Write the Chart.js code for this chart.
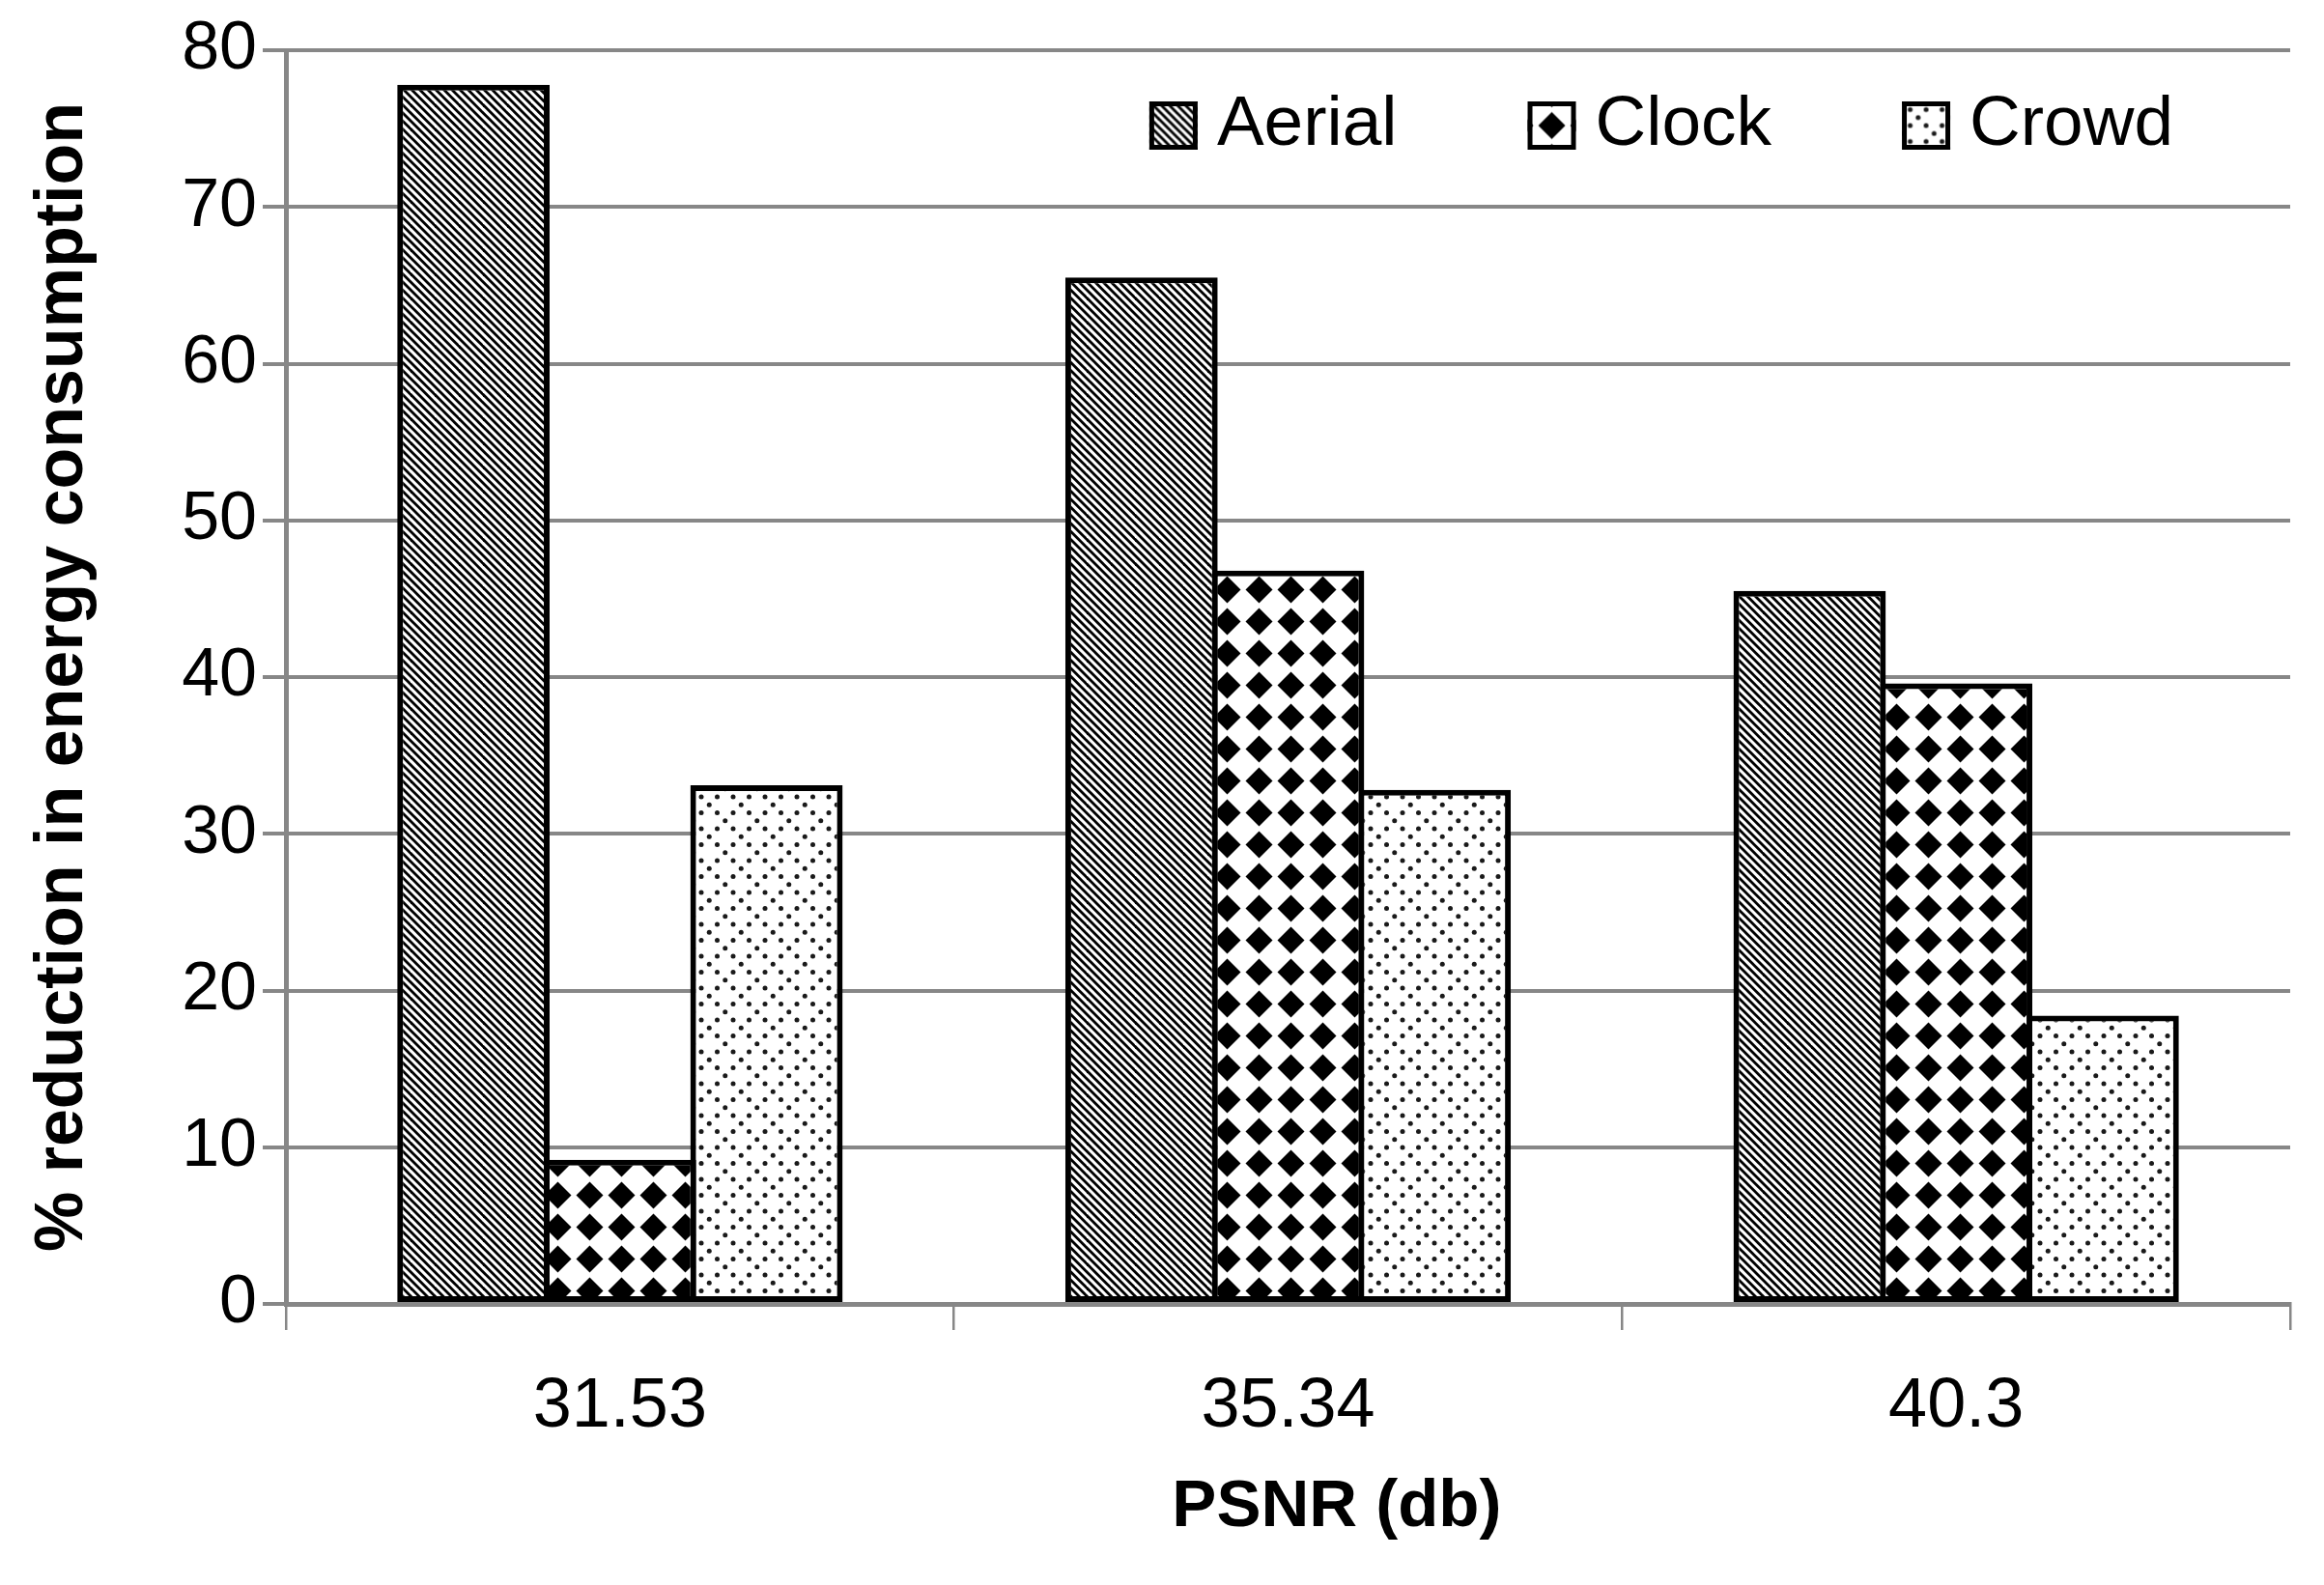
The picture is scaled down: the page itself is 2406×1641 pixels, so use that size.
<!DOCTYPE html>
<html>
<head>
<meta charset="utf-8">
<title>% reduction in energy consumption vs PSNR</title>
<script src="https://cdn.jsdelivr.net/npm/chart.js@4.4.1/dist/chart.umd.min.js"></script>
<style>
  html, body { margin: 0; padding: 0; background: #fff; }
  #wrap { width: 2406px; height: 1641px; position: relative; }
</style>
</head>
<body>
<div id="wrap"><canvas id="energyChart"></canvas></div>
<script>
//values
const psnrLabels = ['31.53', '35.34', '40.3'];
const seriesNames = ['Aerial', 'Clock', 'Crowd'];
const aerialValues = [77.8, 65.5, 45.5];
const clockValues = [9.2, 46.8, 39.6];
const crowdValues = [33.1, 32.8, 18.4];
const yTicks = [0, 10, 20, 30, 40, 50, 60, 70, 80];
const xTitle = 'PSNR (db)';
const yTitle = '% reduction in energy consumption';

const FONT = '"Liberation Sans", Arial, sans-serif';
const GRID = '#878787';

//build a repeating pattern from a small tile
function makePattern(size, draw) {
  const c = document.createElement('canvas');
  c.width = size;
  c.height = size;
  const g = c.getContext('2d');
  g.fillStyle = '#fff';
  g.fillRect(0, 0, size, size);
  draw(g, size);
  return g.createPattern(c, 'repeat');
}

//Aerial: diagonal hatch
const hatchFill = makePattern(25, (g, s) => {
  g.strokeStyle = '#000';
  g.lineWidth = 2.8;
  const step = s / 3;
  for (let a = -2 * s; a <= 2 * s; a += step) {
    g.beginPath();
    g.moveTo(a - 5, -5);
    g.lineTo(a + s + 5, s + 5);
    g.stroke();
  }
});

//Clock: black diamonds
const diamondFill = makePattern(33, (g, s) => {
  const h = s / 2, r = 14;
  g.fillStyle = '#000';
  g.beginPath();
  g.moveTo(h, h - r);
  g.lineTo(h + r, h);
  g.lineTo(h, h + r);
  g.lineTo(h - r, h);
  g.closePath();
  g.fill();
});

//Crowd: small dots
const dotFill = makePattern(33, (g, s) => {
  const q = s / 4;
  const pts = [[0, 0], [2 * q, 0], [q, q], [0, 2 * q], [2 * q, 2 * q], [3 * q, 3 * q]];
  g.fillStyle = '#1a1a1a';
  pts.forEach(([px, py]) => {
    for (let dx = -1; dx <= 1; dx++) {
      for (let dy = -1; dy <= 1; dy++) {
        g.beginPath();
        g.arc(px + dx * s, py + dy * s, 2.5, 0, Math.PI * 2);
        g.fill();
      }
    }
  });
});

//legend drawn inside the plot, top right
const boxLegend = {
  id: 'boxLegend',
  afterDraw(chart) {
    const { ctx, chartArea } = chart;
    const box = 50, gap = 20, spacing = 135;
    ctx.save();
    ctx.font = '73px ' + FONT;
    ctx.textBaseline = 'middle';
    ctx.textAlign = 'left';
    const items = chart.data.datasets.map(ds => ({
      text: ds.label, fill: ds.backgroundColor, w: ctx.measureText(ds.label).width
    }));
    const total = items.reduce((sum, it) => sum + box + gap + it.w, 0) + spacing * (items.length - 1);
    let x = chartArea.right - 121 - total;
    const y = chartArea.top + 53;
    items.forEach(it => {
      //shift so the fill tile is centred in the swatch
      ctx.save();
      ctx.translate(x + box / 2 - 16.5, y + box / 2 - 16.5);
      ctx.fillStyle = it.fill;
      ctx.fillRect(16.5 - box / 2, 16.5 - box / 2, box, box);
      ctx.restore();
      ctx.lineWidth = 5;
      ctx.strokeStyle = '#000';
      ctx.strokeRect(x + 2.5, y + 2.5, box - 5, box - 5);
      ctx.fillStyle = '#000';
      ctx.fillText(it.text, x + box + gap, y + box / 2);
      x += box + gap + it.w + spacing;
    });
    ctx.restore();
  }
};

//x axis title, placed a bit right of centre like the original
const xTitlePlugin = {
  id: 'xTitlePlugin',
  afterDraw(chart) {
    const { ctx } = chart;
    const xs = chart.scales.x;
    ctx.save();
    ctx.font = 'bold 69px ' + FONT;
    ctx.fillStyle = '#000';
    ctx.textAlign = 'center';
    ctx.textBaseline = 'middle';
    ctx.fillText(xTitle, xs.left + (xs.right - xs.left) * 0.5243, xs.bottom - 80);
    ctx.restore();
  }
};

const barStyle = { borderColor: '#000', borderWidth: 6, borderSkipped: false, categoryPercentage: 0.658, barPercentage: 1.04 };

const ctx = document.getElementById('energyChart').getContext('2d');
const energyChart = new Chart(ctx, {
  type: 'bar',
  data: {
    labels: psnrLabels,
    datasets: [
      { label: seriesNames[0], data: aerialValues, backgroundColor: hatchFill, ...barStyle },
      { label: seriesNames[1], data: clockValues, backgroundColor: diamondFill, ...barStyle },
      { label: seriesNames[2], data: crowdValues, backgroundColor: dotFill, ...barStyle }
    ]
  },
  options: {
    responsive: true,
    maintainAspectRatio: false,
    animation: false,
    layout: { padding: { left: 0, right: 35, top: 52, bottom: 0 } },
    plugins: { legend: { display: false }, tooltip: { enabled: false } },
    scales: {
      x: {
        z: 1,
        grid: { display: true, offset: true, drawOnChartArea: false, drawTicks: true, tickLength: 27, lineWidth: 2.5, color: GRID },
        border: { display: true, color: GRID, width: 5 },
        ticks: { color: '#000', font: { family: FONT, size: 72 }, padding: 37 },
        afterFit: s => { s.height = 291; }
      },
      y: {
        min: 0,
        max: 80,
        afterBuildTicks: s => { s.ticks = yTicks.map(v => ({ value: v })); },
        grid: { color: GRID, lineWidth: 4, tickLength: 24 },
        border: { color: GRID, width: 5 },
        ticks: { color: '#000', font: { family: FONT, size: 70 }, padding: 6 },
        title: {
          display: true, text: yTitle, color: '#000',
          font: { family: FONT, size: 70, weight: 'bold' },
          padding: { top: 24, bottom: 0 }
        },
        afterFit: s => { s.width = 296; }
      }
    }
  },
  plugins: [boxLegend, xTitlePlugin]
});
</script>
</body>
</html>
